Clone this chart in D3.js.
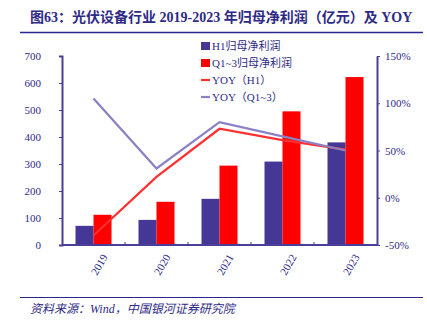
<!DOCTYPE html>
<html>
<head>
<meta charset="utf-8">
<script src="https://cdn.jsdelivr.net/npm/d3@7"></script>
<style>
  body { margin: 0; background: #fff; }
  text { font-family: "Liberation Serif", "Noto Sans CJK SC", serif; }
</style>
</head>
<body>
<svg id="chart" width="427" height="324"></svg>
<script>
var years = ["2019", "2020", "2021", "2022", "2023"];
var profitH1 = [71, 93, 171, 309, 380];
var profitQ13 = [112, 160, 294, 495, 622];
var yoyH1 = [-40, 22, 73, 61, 51];
var yoyQ13 = [105, 31, 80, 65, 50];
var leftTicks = [0, 100, 200, 300, 400, 500, 600, 700];
var rightTicks = [-50, 0, 50, 100, 150];

var INK = "#2e2a86";
var AXIS = "#4a3f98";
var DARK = "#443795";
var RED = "#ff0000";
var LRED = "#ff3030";
var LPURPLE = "#8a80c4";

var svg = d3.select("#chart");
var M = { left: 62, right: 377, top: 56, bottom: 245 };

// title + rules
svg.append("text")
  .attr("x", 30).attr("y", 22)
  .attr("font-size", 14).attr("font-weight", "bold")
  .attr("fill", INK)
  .text("图63：光伏设备行业 2019-2023 年归母净利润（亿元）及 YOY");
svg.append("line").attr("x1", 20).attr("x2", 423).attr("y1", 32.5).attr("y2", 32.5)
  .attr("stroke", "#2a2690").attr("stroke-width", 1.5);
svg.append("line").attr("x1", 20).attr("x2", 423).attr("y1", 297.5).attr("y2", 297.5)
  .attr("stroke", "#2a2690").attr("stroke-width", 1.2);
svg.append("text")
  .attr("x", 30).attr("y", 313)
  .attr("font-size", 12).attr("font-style", "italic")
  .attr("fill", INK)
  .text("资料来源：Wind，中国银河证券研究院");

var x = d3.scaleBand().domain(years).range([M.left, M.right]);
var yL = d3.scaleLinear().domain([0, 700]).range([M.bottom, M.top]);
var yR = d3.scaleLinear().domain([-50, 150]).range([M.bottom, M.top]);
var barW = 18;

// bars
svg.append("g").selectAll("rect.h1").data(years).enter().append("rect")
  .attr("x", function (d) { return x(d) + x.bandwidth() / 2 - barW; })
  .attr("y", function (d, i) { return yL(profitH1[i]); })
  .attr("width", barW)
  .attr("height", function (d, i) { return M.bottom - yL(profitH1[i]); })
  .attr("fill", DARK);
svg.append("g").selectAll("rect.q").data(years).enter().append("rect")
  .attr("x", function (d) { return x(d) + x.bandwidth() / 2; })
  .attr("y", function (d, i) { return yL(profitQ13[i]); })
  .attr("width", barW)
  .attr("height", function (d, i) { return M.bottom - yL(profitQ13[i]); })
  .attr("fill", RED);

// lines
var lineH1 = d3.line()
  .x(function (d, i) { return x(years[i]) + x.bandwidth() / 2; })
  .y(function (d) { return yR(d); });
svg.append("path").attr("d", lineH1(yoyH1))
  .attr("fill", "none").attr("stroke", LRED).attr("stroke-width", 2.2);
svg.append("path").attr("d", lineH1(yoyQ13))
  .attr("fill", "none").attr("stroke", LPURPLE).attr("stroke-width", 2.2);

// axes
var gl = svg.append("g").attr("transform", "translate(" + M.left + ",0)")
  .call(d3.axisLeft(yL).tickValues(leftTicks).tickSize(3).tickSizeOuter(3).tickPadding(18));
var gr = svg.append("g").attr("transform", "translate(" + M.right + ",0)")
  .call(d3.axisRight(yR).tickValues(rightTicks).tickSize(3).tickSizeOuter(0).tickPadding(5)
    .tickFormat(function (d) { return d + "%"; }));
var gb = svg.append("g").attr("transform", "translate(0," + M.bottom + ")")
  .call(d3.axisBottom(x).tickSize(0).tickPadding(12));
gb.select(".domain").attr("d", "M" + M.left + ",0H" + M.right);

// tick marks between categories
svg.append("g").selectAll("line").data(years.slice(1)).enter().append("line")
  .attr("x1", function (d) { return x(d); })
  .attr("x2", function (d) { return x(d); })
  .attr("y1", M.bottom).attr("y2", M.bottom - 3)
  .attr("stroke", AXIS);

[gl, gr, gb].forEach(function (g) {
  g.selectAll(".domain").attr("stroke", AXIS).attr("stroke-width", 2);
  g.selectAll(".tick line").attr("stroke", AXIS);
  g.selectAll("text").attr("fill", INK).attr("font-size", 11)
    .attr("font-family", "Liberation Serif, serif");
});
gl.selectAll("text").attr("text-anchor", "end");
gb.selectAll("text")
  .attr("text-anchor", "end")
  .attr("dy", 0)
  .attr("transform", "translate(4,6) rotate(-60)");

// legend
var legend = [
  { name: "H1归母净利润", type: "rect", color: DARK },
  { name: "Q1~3归母净利润", type: "rect", color: RED },
  { name: "YOY（H1）", type: "line", color: LRED },
  { name: "YOY（Q1~3）", type: "line", color: LPURPLE }
];
var lg = svg.append("g");
legend.forEach(function (d, i) {
  var cy = 46 + i * 17;
  if (d.type === "rect") {
    lg.append("rect").attr("x", 201).attr("y", cy - 4).attr("width", 9).attr("height", 8).attr("fill", d.color);
  } else {
    lg.append("line").attr("x1", 201).attr("x2", 210).attr("y1", cy).attr("y2", cy)
      .attr("stroke", d.color).attr("stroke-width", 2.2);
  }
  lg.append("text").attr("x", 212).attr("y", cy + 4)
    .attr("font-size", 11).attr("fill", INK).text(d.name);
});
</script>
</body>
</html>
